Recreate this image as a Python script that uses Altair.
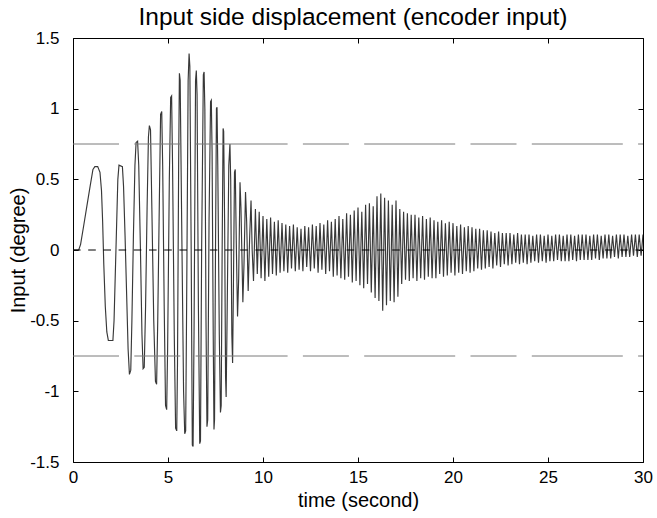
import altair as alt
import pandas as pd

# ---- early part of the response (time in s, displacement in degree) ----
early_t = [0.0, 0.3, 0.4, 0.56, 0.73, 0.9, 1.05, 1.15, 1.3, 1.42, 1.5, 1.56, 1.62, 1.7, 1.78,
           1.86, 2.1, 2.16, 2.22, 2.3, 2.36, 2.42, 2.6, 2.66, 2.74, 2.82, 2.9, 2.97, 3.04, 3.1,
           3.18, 3.26, 3.32, 3.4, 3.46, 3.55, 3.63, 3.69, 3.75, 3.82, 3.9, 3.97, 4.02, 4.08, 4.15,
           4.25, 4.34, 4.4, 4.46, 4.55, 4.61, 4.67, 4.72, 4.8, 4.87, 4.93, 4.98, 5.07, 5.14, 5.19,
           5.24, 5.33, 5.4, 5.46, 5.5, 5.56, 5.6, 5.64, 5.72, 5.82, 5.88, 5.93, 5.98, 6.06, 6.11,
           6.15, 6.22, 6.28, 6.32, 6.37, 6.45, 6.49, 6.53, 6.6, 6.67, 6.71, 6.77, 6.86, 6.9, 6.94,
           7.0, 7.05, 7.09, 7.16, 7.24, 7.28, 7.32, 7.38, 7.42, 7.45, 7.5, 7.55, 7.58, 7.62, 7.7,
           7.76, 7.8, 7.85, 7.9, 7.93, 7.98, 8.03, 8.06, 8.1, 8.2, 8.26, 8.3, 8.36, 8.4, 8.44,
           8.5, 8.54, 8.6, 8.66, 8.72, 8.79, 8.84, 8.94, 9.0, 9.08, 9.14, 9.22, 9.3, 9.37, 9.43,
           9.5]
early_v = [0.0, 0.0, 0.04, 0.17, 0.31, 0.45, 0.57, 0.59, 0.59, 0.55, 0.42, 0.2, -0.1, -0.4, -0.58,
           -0.64, -0.64, -0.5, -0.2, 0.2, 0.5, 0.6, 0.59, 0.45, 0.1, -0.3, -0.7, -0.88, -0.85, -0.5,
           0.1, 0.6, 0.76, 0.77, 0.6, 0.0, -0.6, -0.84, -0.83, -0.4, 0.3, 0.8, 0.88, 0.85, 0.3,
           -0.5, -0.93, -0.95, -0.5, 0.4, 0.96, 0.98, 0.6, -0.4, -1.1, -1.13, -0.7, 0.5, 1.08, 1.09,
           0.6, -0.6, -1.26, -1.28, -0.8, 0.6, 1.25, 1.2, 0.2, -1.0, -1.3, -1.28, -0.4, 1.2, 1.39,
           1.3, 0.0, -1.38, -1.39, -0.6, 1.2, 1.27, 1.1, -0.4, -1.37, -1.35, 0.0, 1.24, 1.26, 1.0,
           -0.5, -1.25, -1.2, 0.2, 1.05, 1.06, 0.7, -0.6, -1.27, -1.2, 0.0, 1.0, 1.01, 0.6, -0.6,
           -1.15, -1.1, 0.0, 0.86, 0.84, 0.2, -0.9, -1.04, -0.6, 0.6, 0.75, 0.5, -0.6, -0.8, -0.3,
           0.55, 0.57, 0.0, -0.47, -0.2, 0.48, 0.3, -0.37, -0.1, 0.41, 0.2, -0.29, 0.1, 0.35, 0.0,
           -0.22]

# ---- dense part: samples every 0.1 s from 9.6 s to 30 s ----
dense_start = 9.6
dense_step = 0.1
dense_v = [
    0.29, -0.17, 0.27, -0.20,
    0.24, -0.22, 0.22, -0.19, 0.23, -0.17, 0.20, -0.18, 0.21, -0.16,
    0.19, -0.15, 0.18, -0.16, 0.17, -0.13, 0.18, -0.15, 0.16, -0.14,
    0.15, -0.15, 0.17, -0.12, 0.16, -0.15, 0.18, -0.13, 0.17, -0.16,
    0.19, -0.14, 0.18, -0.17, 0.21, -0.15, 0.20, -0.19, 0.22, -0.18,
    0.24, -0.20, 0.22, -0.21, 0.26, -0.19, 0.25, -0.23, 0.28, -0.22,
    0.30, -0.25, 0.27, -0.27, 0.32, -0.24, 0.33, -0.30, 0.31, -0.34,
    0.38, -0.36, 0.40, -0.43, 0.37, -0.39, 0.35, -0.36, 0.32, -0.37,
    0.35, -0.33, 0.29, -0.24, 0.27, -0.21, 0.26, -0.22, 0.25, -0.20,
    0.25, -0.22, 0.23, -0.20, 0.24, -0.21, 0.22, -0.19, 0.23, -0.20,
    0.21, -0.20, 0.20, -0.17, 0.21, -0.19, 0.19, -0.18, 0.20, -0.16,
    0.19, -0.18, 0.17, -0.16, 0.18, -0.17, 0.16, -0.15, 0.17, -0.16,
    0.16, -0.15, 0.15, -0.13, 0.15, -0.14, 0.14, -0.13, 0.14, -0.12,
    0.13, -0.13, 0.12, -0.11, 0.13, -0.12, 0.12, -0.10, 0.12, -0.11,
    0.12, -0.10, 0.11, -0.09, 0.12, -0.10, 0.11, -0.09, 0.11, -0.10,
    0.11, -0.09, 0.10, -0.08, 0.11, -0.09, 0.11, -0.08, 0.10, -0.09,
    0.11, -0.08, 0.10, -0.08, 0.11, -0.07, 0.11, -0.08, 0.10, -0.08,
    0.11, -0.08, 0.11, -0.07, 0.10, -0.08, 0.11, -0.07, 0.11, -0.07,
    0.11, -0.07, 0.10, -0.07, 0.11, -0.06, 0.11, -0.07, 0.10, -0.06,
    0.11, -0.06, 0.11, -0.06, 0.10, -0.05, 0.11, -0.06, 0.11, -0.05,
    0.11, -0.05, 0.10, -0.05, 0.11, -0.04, 0.11, -0.05, 0.11, -0.04,
    0.11,
]

limit_levels = [0.75, -0.75]
zero_level = [0.0]
x_range = [0, 30]
y_range = [-1.5, 1.5]
x_ticks = [0, 5, 10, 15, 20, 25, 30]
y_ticks = [-1.5, -1, -0.5, 0, 0.5, 1, 1.5]

t_all = early_t + [round(dense_start + i * dense_step, 3) for i in range(len(dense_v))]
v_all = early_v + dense_v
sig = pd.DataFrame({"t": t_all, "v": v_all})
lim = pd.DataFrame({"y": limit_levels, "x0": [x_range[0]] * 2, "x1": [x_range[1]] * 2})
zer = pd.DataFrame({"y": zero_level, "x0": [x_range[0]], "x1": [x_range[1]]})

FONT = "Liberation Sans"
xs = alt.Scale(domain=x_range, nice=False, zero=False)
ys = alt.Scale(domain=y_range, nice=False, zero=False)

x_axis = alt.Axis(values=x_ticks, orient="bottom", tickSize=5, offset=-5, domain=False,
                  grid=False, labelPadding=7, labelFlush=False, labelOverlap=False,
                  labelExpr="datum.value + ''",
                  labelFontSize=17, titleFontSize=20, titleFontWeight="normal",
                  titlePadding=5, tickColor="black", labelColor="black", titleColor="black")
y_axis = alt.Axis(values=y_ticks, orient="left", tickSize=5, offset=-5, domain=False,
                  grid=False, labelPadding=14, labelFlush=False, labelOverlap=False,
                  labelExpr="datum.value + ''",
                  labelFontSize=17, titleFontSize=20, titleFontWeight="normal",
                  titlePadding=1, tickColor="black", labelColor="black", titleColor="black")
x_top = alt.Axis(values=x_ticks, orient="top", tickSize=5, offset=-5, domain=False,
                 grid=False, labels=False, title=None, tickColor="black")
y_right = alt.Axis(values=y_ticks, orient="right", tickSize=5, offset=-5, domain=False,
                   grid=False, labels=False, title=None, tickColor="black")

signal = alt.Chart(sig).mark_line(color="#383838", strokeWidth=1.15, clip=True).encode(
    x=alt.X("t:Q", scale=xs, axis=x_axis, title="time (second)"),
    y=alt.Y("v:Q", scale=ys, axis=y_axis, title="Input (degree)"),
    order="t:Q",
)

limit_dash = [46, 15.3, 46, 15.3, 92, 15.3, 46, 15.3, 91, 15.3, 46, 15.3, 91, 15.3, 30]
limits = alt.Chart(lim).mark_rule(color="#7a7a7a", strokeWidth=1, strokeDash=limit_dash).encode(
    x=alt.X("x0:Q", scale=xs, axis=x_top),
    x2="x1:Q",
    y=alt.Y("y:Q", scale=ys, axis=y_right),
)

zero = alt.Chart(zer).mark_rule(color="black", strokeWidth=1, strokeDash=[7.6, 7.6]).encode(
    x=alt.X("x0:Q", scale=xs, axis=None),
    x2="x1:Q",
    y=alt.Y("y:Q", scale=ys, axis=None),
)

chart = (
    alt.layer(signal, limits, zero)
    .resolve_scale(x="shared", y="shared")
    .resolve_axis(x="independent", y="independent")
    .properties(
        width=570, height=424,
        autosize=alt.AutoSizeParams(type="none"),
        padding={"left": 73, "top": 38, "right": 14, "bottom": 56},
        title=alt.Title("Input side displacement (encoder input)", fontSize=24.5,
                        fontWeight="normal", font=FONT, color="black", offset=-1, dx=-5),
        background="white",
    )
    .configure_view(stroke="black", strokeWidth=1)
    .configure_axis(labelFont=FONT, titleFont=FONT)
)

chart.save("out.html", embed_options={"renderer": "svg", "actions": False})
